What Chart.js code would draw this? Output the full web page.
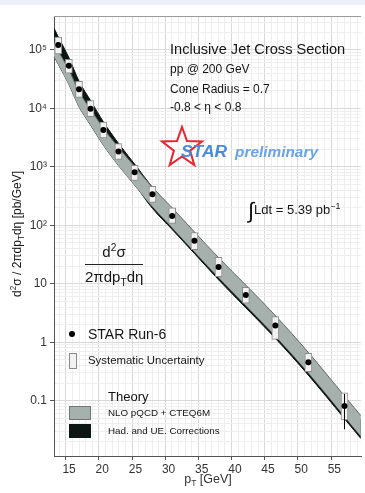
<!DOCTYPE html>
<html lang="en">
<head>
  <meta charset="UTF-8" />
  <title>Inclusive Jet Cross Section</title>
  <script src="https://cdn.jsdelivr.net/npm/chart.js"></script>
  <style>
    html, body { margin: 0; padding: 0; }
    body {
      width: 365px; height: 493px; overflow: hidden; position: relative;
      background: #fff;
      font-family: 'Liberation Sans', Arial, sans-serif;
    }
    #jetChart { position: absolute; left: 0; top: 0; }
    .topband { position: absolute; left: 0; top: 0; width: 365px; height: 5px; background: #eeeef8; }
    .txt {
      position: absolute; white-space: nowrap; color: #151515; line-height: 1;
      transform: translateY(-50%);
    }
    sup, sub { font-size: 0.68em; line-height: 0; }
    .ytitle { left: 17px; top: 234px; font-size: 12px; transform: translate(-50%, -50%) rotate(-90deg); }
    .xtitle { left: 208px; top: 479px; font-size: 12.5px; color: #333; transform: translate(-50%, -50%); }
    .star { position: absolute; left: 154px; top: 122px; }
    .starTxt { font-weight: bold; font-style: italic; }
    .frac { position: absolute; left: 85px; top: 243px; width: 58px; text-align: center; font-size: 15px; color: #151515; }
    .frac .num { border-bottom: 1px solid #222; padding-bottom: 4px; margin-bottom: 3px; }
    .lgbox { position: absolute; }
  </style>
</head>
<body>
  <canvas id="jetChart" width="365" height="493"></canvas>
  <div class="topband"></div>

  <div class="txt" style="left:170px; top:49px; font-size:14.6px;">Inclusive Jet Cross Section</div>
  <div class="txt" style="left:170px; top:69px; font-size:12px;">pp @ 200 GeV</div>
  <div class="txt" style="left:170px; top:89px; font-size:12px;">Cone Radius = 0.7</div>
  <div class="txt" style="left:170px; top:107px; font-size:12px;">-0.8 &lt; η &lt; 0.8</div>

  <svg class="star" width="56" height="52" viewBox="0 0 56 52">
    <polygon points="28,5 33,19.1 48,19.5 36.1,28.6 40.3,43 28,34.5 15.7,43 19.9,28.6 8,19.5 23,19.1"
             fill="none" stroke="#e5262f" stroke-width="2" stroke-linejoin="miter"/>
  </svg>
  <div class="txt starTxt" style="left:181px; top:152px; font-size:17.4px; color:#4a8bd8;">STAR</div>
  <div class="txt starTxt" style="left:235px; top:152px; font-size:15.4px; color:#6ea3e2;">preliminary</div>

  <div class="txt" style="left:248px; top:211px; font-size:13px;"><span style="font-size:22px; vertical-align:-4px;">∫</span>Ldt = 5.39 pb<sup>−1</sup></div>

  <div class="frac">
    <div class="num">d<sup>2</sup>σ</div>
    <div>2πdp<sub>T</sub>dη</div>
  </div>

  <div class="txt ytitle">d<sup>2</sup>σ / 2πdp<sub>T</sub>dη [pb/GeV]</div>
  <div class="txt xtitle">p<sub>T</sub> [GeV]</div>

  <div class="lgbox" style="left:69px; top:331px; width:6px; height:6px; border-radius:50%; background:#000;"></div>
  <div class="txt" style="left:88px; top:334px; font-size:14px;">STAR Run-6</div>
  <div class="lgbox" style="left:69px; top:353px; width:6px; height:14px; background:#f2f2f2; border:1px solid #8a8a8a;"></div>
  <div class="txt" style="left:88px; top:361px; font-size:11.4px;">Systematic Uncertainty</div>
  <div class="txt" style="left:108px; top:396px; font-size:13px;">Theory</div>
  <div class="lgbox" style="left:69px; top:406px; width:20px; height:12px; background:#a6b1ae; border:1px solid #6d7775;"></div>
  <div class="txt" style="left:108px; top:413px; font-size:9.8px;">NLO pQCD + CTEQ6M</div>
  <div class="lgbox" style="left:69px; top:424px; width:20px; height:12px; background:#0e1614; border:1px solid #0e1614;"></div>
  <div class="txt" style="left:108px; top:431px; font-size:9.8px;">Had. and UE. Corrections</div>

  <script>
    // STAR Run-6 points
    const ptBins = [13.36, 14.96, 16.49, 18.23, 20.17, 22.44, 24.88, 27.56, 30.54, 33.9, 37.54, 41.65, 46.1, 51.08, 56.53];
    const xsec = [121600, 53700, 21230, 9886, 4266, 1832, 807.2, 338.8, 144.2, 54.58, 19.36, 6.427, 1.932, 0.4529, 0.08128];
    const statErr = [1200, 500, 200, 100, 45, 20, 9, 4, 1.8, 0.8, 0.35, 0.15, 0.07, 0.035, 0.049];
    const sysHigh = [166700, 69340, 29110, 13550, 5848, 2512, 1064, 464.5, 200.0, 74.82, 28.38, 8.71, 2.754, 0.6457, 0.1355];
    const sysLow = [85310, 40000, 15490, 7211, 3112, 1337, 588.8, 247.2, 108.1, 38.28, 13.21, 4.634, 1.112, 0.3126, 0.04677];

    // theory bands
    const theoryPt = [12.72, 13.36, 14.96, 16.49, 18.23, 20.17, 22.44, 24.88, 27.56, 30.54, 33.9, 37.54, 41.65, 46.1, 51.08, 56.53, 59.0];
    const nloHigh = [135500, 96610, 45710, 19360, 9661, 4571, 2153, 1016, 446.7, 199.1, 77.09, 27.99, 9.506, 2.858, 0.6699, 0.1202, 0.05521];
    const nloLow = [77980, 56890, 25700, 10640, 5188, 2344, 1054, 486.4, 208.9, 90.99, 35.24, 12.79, 4.246, 1.276, 0.2992, 0.0537, 0.02466];
    const corrHigh = [235500, 167900, 74130, 29310, 13650, 5888, 2529, 1114, 446.7, 181.6, 68.71, 23.82, 7.907, 2.377, 0.5572, 0.1, 0.04592];
    const corrLow = [107600, 76740, 38020, 16110, 7499, 3090, 1268, 509.3, 195.0, 84.92, 32.89, 11.67, 3.873, 1.164, 0.2729, 0.04898, 0.02249];

    const yLabels = { 5: '10⁵', 4: '10⁴', 3: '10³', 2: '10²', 1: '10', 0: '1', '-1': '0.1' };

    const GRAY = '#a6b1ae', DARK = '#0e1614';

    function pts(xs, ys) { return xs.map((x, i) => ({ x: x, y: ys[i] })); }

    const errorBars = {
      id: 'errorBars',
      afterDatasetsDraw(chart) {
        const { ctx, scales: { x, y } } = chart;
        ctx.save();
        ctx.strokeStyle = '#000';
        ctx.lineWidth = 1;
        ptBins.forEach((pt, i) => {
          const px = x.getPixelForValue(pt);
          ctx.beginPath();
          ctx.moveTo(px, y.getPixelForValue(xsec[i] + statErr[i]));
          ctx.lineTo(px, y.getPixelForValue(Math.max(xsec[i] - statErr[i], 1e-3)));
          ctx.stroke();
        });
        ctx.restore();
      }
    };

    const frameTop = {
      id: 'frameTop',
      afterDraw(chart) {
        const { ctx, chartArea } = chart;
        ctx.save();
        ctx.strokeStyle = '#9a9a9a';
        ctx.lineWidth = 1;
        ctx.beginPath();
        ctx.moveTo(chartArea.left, chartArea.top + 0.5);
        ctx.lineTo(chartArea.right, chartArea.top + 0.5);
        ctx.stroke();
        ctx.restore();
      }
    };

    new Chart(document.getElementById('jetChart'), {
      type: 'scatter',
      data: {
        datasets: [
          {
            label: 'STAR Run-6', type: 'scatter', order: 0,
            data: pts(ptBins, xsec),
            pointRadius: 3, pointBackgroundColor: '#000', pointBorderWidth: 0
          },
          {
            label: 'Systematic Uncertainty', type: 'bar', order: 1,
            data: ptBins.map((x, i) => ({ x: x, y: [sysLow[i], sysHigh[i]] })),
            backgroundColor: '#f2f2f2', borderColor: '#8a8a8a', borderWidth: 1,
            borderSkipped: false, barThickness: 7, grouped: false
          },
          {
            label: 'NLO pQCD + CTEQ6M', type: 'line', order: 2,
            data: pts(theoryPt, nloHigh), fill: { target: 3 },
            backgroundColor: GRAY, borderColor: '#5f6b68', borderWidth: 1,
            pointRadius: 0, cubicInterpolationMode: 'monotone'
          },
          {
            label: 'nlo low', type: 'line', order: 2,
            data: pts(theoryPt, nloLow), fill: false,
            borderColor: '#3a4442', borderWidth: 1,
            pointRadius: 0, cubicInterpolationMode: 'monotone'
          },
          {
            label: 'Had. and UE. Corrections', type: 'line', order: 3,
            data: pts(theoryPt, corrHigh), fill: { target: 5 },
            backgroundColor: DARK, borderColor: DARK, borderWidth: 1,
            pointRadius: 0, cubicInterpolationMode: 'monotone'
          },
          {
            label: 'corr low', type: 'line', order: 3,
            data: pts(theoryPt, corrLow), fill: false,
            borderColor: DARK, borderWidth: 1,
            pointRadius: 0, cubicInterpolationMode: 'monotone'
          }
        ]
      },
      options: {
        responsive: false,
        animation: false,
        devicePixelRatio: 1,
        layout: { padding: { top: 16, left: 0, right: 0, bottom: 0 } },
        plugins: { legend: { display: false }, tooltip: { enabled: false } },
        scales: {
          x: {
            type: 'linear', min: 12.72, max: 59.02, offset: false,
            afterBuildTicks(scale) {
              const t = [];
              for (let v = 13; v <= 59; v++) t.push({ value: v, major: v % 5 === 0 });
              scale.ticks = t;
            },
            afterFit(scale) { scale.height = 37; },
            ticks: {
              autoSkip: false, maxRotation: 0, padding: 2,
              color: '#333', font: { family: "'Liberation Sans', Arial", size: 12 },
              callback: (v) => (v % 5 === 0 ? String(v) : '')
            },
            grid: {
              color: (c) => (c.tick && c.tick.major ? '#d9d9d9' : '#eeeeee'),
              tickColor: (c) => (c.tick && c.tick.major ? '#555' : 'rgba(0,0,0,0)'),
              tickLength: 4
            },
            border: { color: '#555', width: 1 }
          },
          y: {
            type: 'logarithmic', min: 0.0113, max: 381000,
            afterBuildTicks(scale) {
              const t = [];
              for (let e = -2; e <= 5; e++) {
                for (let m = 1; m <= 9; m++) {
                  const v = m * Math.pow(10, e);
                  if (v >= scale.min && v <= scale.max) t.push({ value: v, major: m === 1 });
                }
              }
              scale.ticks = t;
            },
            afterFit(scale) { scale.width = 54; },
            ticks: {
              autoSkip: false, padding: 3,
              color: '#333', font: { family: "'Liberation Sans', Arial", size: 12 },
              callback: (v, i, ticks) => {
                const tk = ticks[i];
                if (!tk || !tk.major) return '';
                const e = Math.round(Math.log10(v));
                return yLabels[e] || '';
              }
            },
            grid: {
              color: (c) => (c.tick && c.tick.major ? '#d9d9d9' : '#eeeeee'),
              tickColor: (c) => (c.tick && c.tick.major ? '#555' : 'rgba(0,0,0,0)'),
              tickLength: 4
            },
            border: { color: '#555', width: 1 }
          }
        }
      },
      plugins: [errorBars, frameTop]
    });
  </script>
</body>
</html>
